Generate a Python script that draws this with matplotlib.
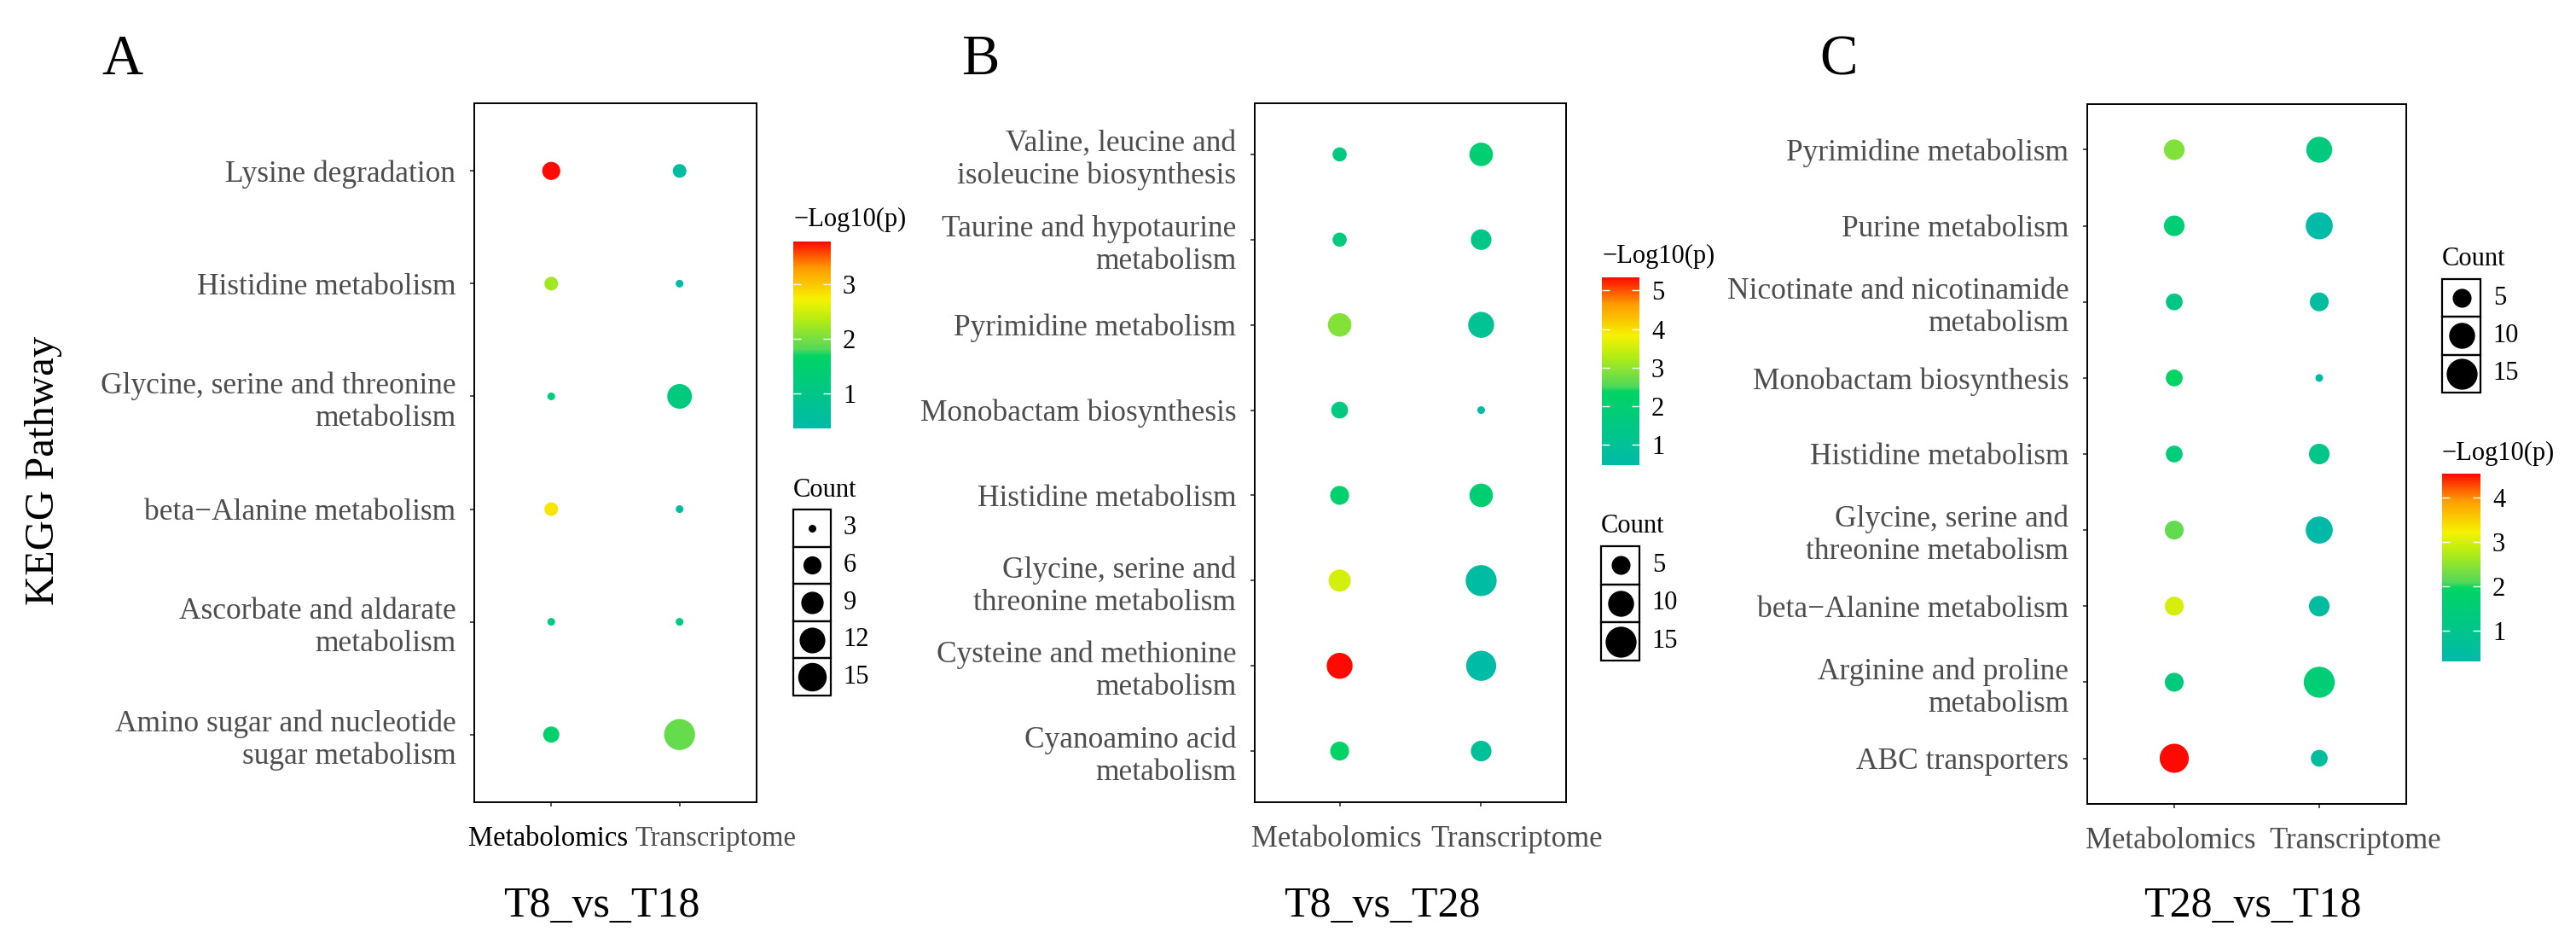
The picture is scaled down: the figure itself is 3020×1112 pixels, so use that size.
import numpy as np
import matplotlib
matplotlib.use("Agg")
import matplotlib.pyplot as plt
from matplotlib.colors import LinearSegmentedColormap, Normalize
from matplotlib.cm import ScalarMappable
from matplotlib.patches import Rectangle
from matplotlib.transforms import ScaledTranslation

plt.rcParams['font.family'] = ['Liberation Serif', 'DejaVu Serif']

# ---- data ----
groups = ["Metabolomics", "Transcriptome"]

paths_a = ["Lysine degradation", "Histidine metabolism",
           "Glycine, serine and threonine\nmetabolism", "beta\u2212Alanine metabolism",
           "Ascorbate and aldarate\nmetabolism", "Amino sugar and nucleotide\nsugar metabolism"]
cnt_a_met = [6, 4, 3, 4, 3, 5]
cnt_a_tra = [4, 3, 11, 3, 3, 18]
lp_a_met = [3.78, 2.23, 1.2, 2.8, 1.15, 1.55]
lp_a_tra = [0.5, 0.355, 1.2, 0.45, 1.2, 1.9]

paths_b = ["Valine, leucine and\nisoleucine biosynthesis", "Taurine and hypotaurine\nmetabolism",
           "Pyrimidine metabolism", "Monobactam biosynthesis", "Histidine metabolism",
           "Glycine, serine and\nthreonine metabolism", "Cysteine and methionine\nmetabolism",
           "Cyanoamino acid\nmetabolism"]
cnt_b_met = [3, 3, 8, 4, 5, 7, 10, 5]
cnt_b_tra = [8, 6, 10, 2, 8, 15, 14, 6]
lp_b_met = [1.6, 1.6, 2.9, 1.6, 2.1, 3.55, 5.34, 2.3]
lp_b_tra = [2.0, 1.4, 1.05, 0.47, 2.0, 0.65, 0.55, 0.9]

paths_c = ["Pyrimidine metabolism", "Purine metabolism",
           "Nicotinate and nicotinamide\nmetabolism", "Monobactam biosynthesis",
           "Histidine metabolism", "Glycine, serine and\nthreonine metabolism",
           "beta\u2212Alanine metabolism", "Arginine and proline\nmetabolism", "ABC transporters"]
cnt_c_met = [6, 6, 4, 4, 4, 5, 5, 5, 13]
cnt_c_tra = [10, 11, 5, 2, 6, 11, 6, 15, 4]
lp_c_met = [2.4, 1.55, 1.2, 1.95, 1.5, 2.2, 3.0, 1.35, 4.54]
lp_c_tra = [1.35, 0.35, 0.5, 0.31, 1.1, 0.31, 0.5, 1.55, 0.5]

titles = ["T8_vs_T18", "T8_vs_T28", "T28_vs_T18"]
letters = ["A", "B", "C"]
count_breaks = [[3, 6, 9, 12, 15], [5, 10, 15], [5, 10, 15]]
lp_ticks = [[1, 2, 3], [1, 2, 3, 4, 5], [1, 2, 3, 4]]

# ---- look ----
W, H, DPI = 3020, 1112, 100
GREY = "#4D4D4D"
cmap = LinearSegmentedColormap.from_list("kegg", [
    (0.00, "#00BAA8"), (0.39, "#00D464"), (0.42, "#52D85A"),
    (0.58, "#B4EC14"), (0.69, "#F6F200"), (0.86, "#FF9A00"), (1.00, "#FF0A00")])


def rect(x0, y0, x1, y1):
    return [x0 / W, 1 - y1 / H, (x1 - x0) / W, (y1 - y0) / H]


def pt(px):
    return px * 72 / DPI


def dot_size(v, lo, hi):
    d = 9 + 27.3 * np.sqrt((np.asarray(v, float) - lo) / (hi - lo))
    return pt(d) ** 2


fig = plt.figure(figsize=(W / DPI, H / DPI), dpi=DPI)

panels = [
    dict(paths=paths_a, cm=cnt_a_met, ct=cnt_a_tra, lm=lp_a_met, lt=lp_a_tra,
         box=(556, 121, 887, 940), title_x=705, letter_x=119, xfs=23.5,
         cbar=(930, 283, 974, 502), cbar_title=265, cnt=(930, 597, 974, 815), cnt_title=582),
    dict(paths=paths_b, cm=cnt_b_met, ct=cnt_b_tra, lm=lp_b_met, lt=lp_b_tra,
         box=(1471, 121, 1836, 940), title_x=1620, letter_x=1127, xfs=25,
         cbar=(1878, 325, 1922, 545), cbar_title=308, cnt=(1877, 640, 1922, 774), cnt_title=624),
    dict(paths=paths_c, cm=cnt_c_met, ct=cnt_c_tra, lm=lp_c_met, lt=lp_c_tra,
         box=(2447, 122, 2821, 942), title_x=2641, letter_x=2133, xfs=25,
         cbar=(2863, 555, 2908, 775), cbar_title=539, cnt=(2863, 327, 2908, 460), cnt_title=311),
]

for k, p in enumerate(panels):
    n = len(p["paths"])
    ypos = np.arange(n)[::-1]
    counts = p["cm"] + p["ct"]
    lo, hi = min(counts), max(counts)
    vals = p["lm"] + p["lt"]
    norm = Normalize(min(vals), max(vals))

    ax = fig.add_axes(rect(*p["box"]))
    ax.scatter(np.zeros(n), ypos, s=dot_size(p["cm"], lo, hi), c=p["lm"],
               cmap=cmap, norm=norm, linewidths=0, zorder=3)
    ax.scatter(np.ones(n), ypos, s=dot_size(p["ct"], lo, hi), c=p["lt"],
               cmap=cmap, norm=norm, linewidths=0, zorder=3)
    ax.set_xlim(-0.6, 1.6)
    ax.set_ylim(-0.6, n - 0.4)
    ax.set_yticks(ypos)
    ax.set_yticklabels(p["paths"], fontsize=25.5, color=GREY)
    ax.set_xticks([0, 1])
    ax.set_xticklabels(groups, fontsize=p["xfs"], color=GREY)
    ax.tick_params(axis="y", length=pt(5), width=1.2, pad=12, color="#333333")
    ax.tick_params(axis="x", length=pt(5), width=1.2, pad=16, color="#333333")
    xl = ax.get_xticklabels()
    if k == 0:
        xl[0].set_color("black")
    # the right-hand label sits a little right of its tick in the original
    xl[1].set_transform(xl[1].get_transform() + ScaledTranslation(0.42, 0, fig.dpi_scale_trans))
    xl[0].set_transform(xl[0].get_transform() + ScaledTranslation(-0.04, 0, fig.dpi_scale_trans))
    for sp in ax.spines.values():
        sp.set_linewidth(1.4)

    fig.text(p["title_x"] / W, 1 - 1074 / H, titles[k], fontsize=36,
             ha="center", va="baseline")
    fig.text(p["letter_x"] / W, 1 - 87 / H, letters[k], fontsize=48,
             ha="left", va="baseline")

    # colour bar
    cx0, cy0, cx1, cy1 = p["cbar"]
    cax = fig.add_axes(rect(cx0, cy0, cx1, cy1))
    cb = fig.colorbar(ScalarMappable(norm=norm, cmap=cmap), cax=cax)
    cb.outline.set_visible(False)
    cb.set_ticks(lp_ticks[k])
    cax.minorticks_off()
    cax.yaxis.set_ticks_position("both")
    cax.tick_params(direction="in", length=pt(9), width=1, color="white",
                    labelleft=False, labelright=True, labelcolor="black",
                    labelsize=22, pad=10)
    fig.text(cx0 / W, 1 - p["cbar_title"] / H, "\u2212Log10(p)", fontsize=22,
             ha="left", va="baseline")

    # count legend
    lx0, ly0, lx1, ly1 = p["cnt"]
    br = count_breaks[k]
    m = len(br)
    lax = fig.add_axes(rect(lx0, ly0, lx1, ly1))
    lax.set_xlim(0, 1)
    lax.set_ylim(0, m)
    lax.axis("off")
    for i, b in enumerate(br):
        yy = m - 1 - i
        lax.add_patch(Rectangle((0, yy), 1, 1, fill=False, ec="black", lw=1.6, clip_on=False))
        lax.scatter([0.5], [yy + 0.5], s=dot_size([b], lo, hi), color="black",
                    linewidths=0, clip_on=False)
        lax.text(1.33, yy + 0.5, str(b), fontsize=22, ha="left", va="center")
    fig.text(lx0 / W, 1 - p["cnt_title"] / H, "Count", fontsize=22,
             ha="left", va="baseline")

fig.text(51 / W, 1 - 551 / H, "KEGG Pathway", fontsize=35, rotation=90,
         ha="center", va="center")

fig.savefig("out.png", dpi=DPI)
